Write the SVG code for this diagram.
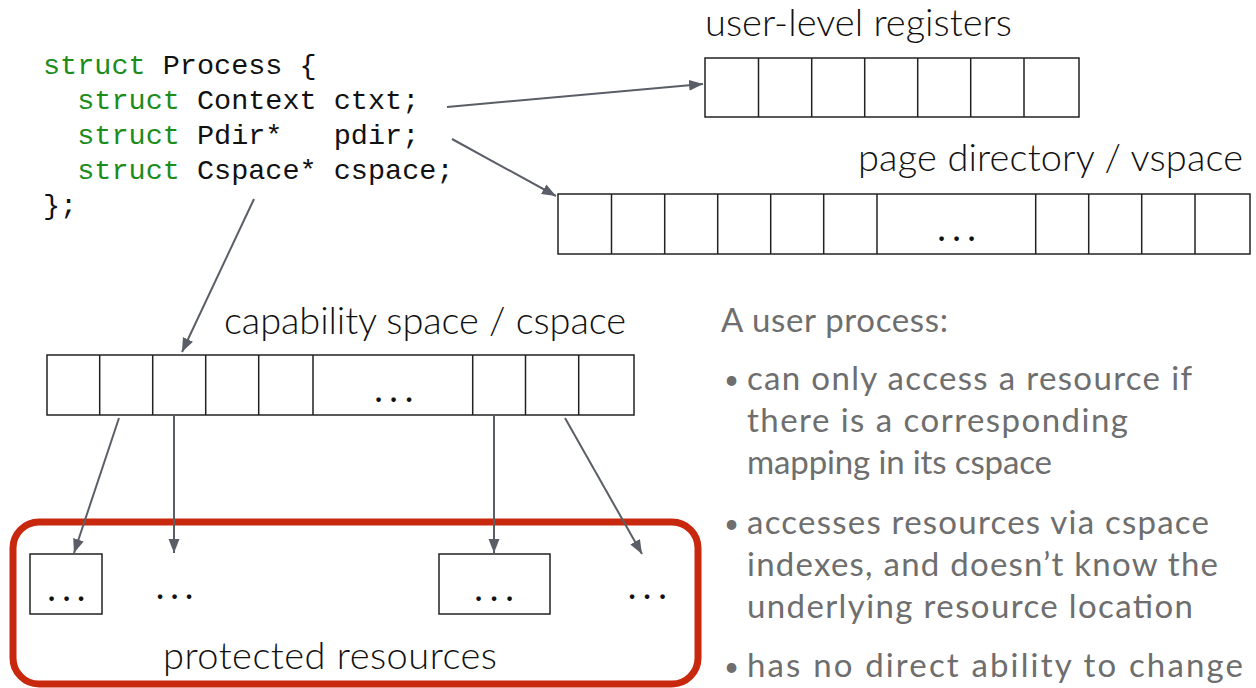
<svg xmlns="http://www.w3.org/2000/svg" width="1256" height="688" viewBox="0 0 1256 688">
<defs>
<style>
.code{font-family:"Liberation Mono","Courier New",monospace;font-size:28.5px;fill:#111}
.kw{fill:#1c8c1c}
.lbl{font-family:Lato,"Open Sans",sans-serif;font-weight:300;font-size:38px;fill:#111}
.gray{font-family:Lato,"Open Sans",sans-serif;font-size:33px;fill:#6e6e6e}
.bul{font-family:Lato,"Open Sans",sans-serif;font-size:26px;fill:#6e6e6e}
.cell{fill:#fff;stroke:#222;stroke-width:1.5}
.div{stroke:#222;stroke-width:1.5}
.dots{font-family:Lato,"Open Sans",sans-serif;font-size:30px;fill:#111;font-weight:700}
.arr{stroke:#5a5e66;stroke-width:2;fill:none;marker-end:url(#ah)}
</style>
<marker id="ah" markerUnits="userSpaceOnUse" markerWidth="15" markerHeight="12" refX="14" refY="5.5" orient="auto" viewBox="0 0 15 11">
<path d="M0,0 L14,5.5 L0,11 z" fill="#5a5e66"/>
</marker>
</defs>
<rect width="1256" height="688" fill="#fff"/>

<g id="code">
<text class="code" xml:space="preserve"><tspan x="43" y="74"><tspan class="kw">struct</tspan> Process {</tspan><tspan x="43" y="109">  <tspan class="kw">struct</tspan> Context ctxt;</tspan><tspan x="43" y="144">  <tspan class="kw">struct</tspan> Pdir*   pdir;</tspan><tspan x="43" y="179">  <tspan class="kw">struct</tspan> Cspace* cspace;</tspan><tspan x="43" y="214">};</tspan></text>
</g>

<g id="registers">
<text class="lbl" x="705" y="36" textLength="307">user-level registers</text>
<rect class="cell" x="705" y="58" width="374" height="59"/>
<path class="div" d="M758.5,58V117M811.7,58V117M864.7,58V117M917.7,58V117M970.7,58V117M1024,58V117"/>
</g>

<g id="pagedir">
<text class="lbl" x="858" y="171" textLength="385">page directory / vspace</text>
<rect class="cell" x="558" y="194" width="692" height="60"/>
<path class="div" d="M611.5,194V254M664.7,194V254M717.7,194V254M770.7,194V254M823.7,194V254M877,194V254M1035.7,194V254M1088.7,194V254M1141.7,194V254M1195,194V254"/>
<text class="dots" x="938 953 968" y="241">...</text>
</g>

<g id="cspace">
<text class="lbl" x="224" y="334" textLength="402">capability space / cspace</text>
<rect class="cell" x="47" y="355" width="587" height="60"/>
<path class="div" d="M99.7,355V415M152.7,355V415M205.7,355V415M258.7,355V415M313,355V415M472.7,355V415M525.5,355V415M578.7,355V415"/>
<text class="dots" x="375 390 405.5" y="402">...</text>
</g>

<g id="resources">
<rect x="13" y="522" width="685" height="162" rx="26" ry="26" fill="none" stroke="#c8290e" stroke-width="7"/>
<rect class="cell" x="30" y="554" width="72" height="60"/>
<text class="dots" x="48 63 77.5" y="600.5">...</text>
<text class="dots" x="156.5 171 185.5" y="599">...</text>
<rect class="cell" x="439" y="554" width="111" height="60"/>
<text class="dots" x="475 490.5 506" y="600.5">...</text>
<text class="dots" x="628.5 643.5 659" y="599">...</text>
<text class="lbl" x="163" y="669" textLength="334">protected resources</text>
</g>

<g id="notes">
<text class="gray" x="721" y="332" textLength="227">A user process:</text>
<text class="bul" x="724" y="389">•</text>
<text class="gray" x="747" y="390" textLength="445">can only access a resource if</text>
<text class="gray" x="747" y="432" textLength="381">there is a corresponding</text>
<text class="gray" x="747" y="474" textLength="305">mapping in its cspace</text>
<text class="bul" x="724" y="533">•</text>
<text class="gray" x="747" y="534" textLength="462">accesses resources via cspace</text>
<text class="gray" x="747" y="576" textLength="471">indexes, and doesn’t know the</text>
<text class="gray" x="747" y="618" textLength="446">underlying resource location</text>
<text class="bul" x="724" y="676">•</text>
<text class="gray" x="747" y="677" textLength="496">has no direct ability to change</text>
</g>

<g id="connectors">
<line class="arr" x1="447" y1="107" x2="703" y2="84"/>
<line class="arr" x1="452" y1="139" x2="556" y2="196"/>
<line class="arr" x1="254" y1="199" x2="182" y2="352"/>
<line class="arr" x1="119" y1="418" x2="74" y2="553"/>
<line class="arr" x1="174" y1="416" x2="174" y2="553"/>
<line class="arr" x1="494" y1="416" x2="494" y2="553"/>
<line class="arr" x1="565" y1="418" x2="642" y2="554"/>
</g>
</svg>
